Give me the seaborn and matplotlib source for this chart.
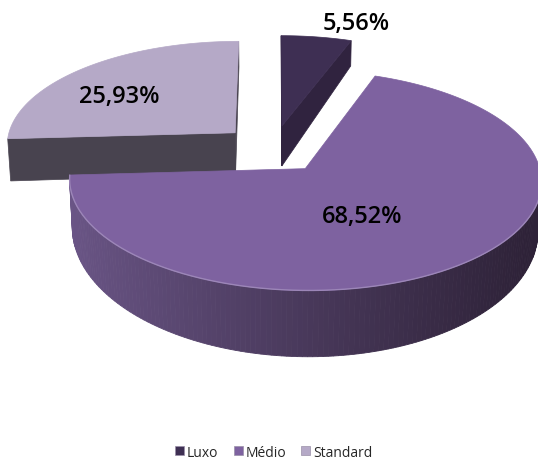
import numpy as np
import matplotlib.pyplot as plt
from matplotlib.patches import Polygon, Patch
from matplotlib.colors import to_rgb
import seaborn as sns

# data
categories = ["Luxo", "Médio", "Standard"]
shares = [5.56, 68.52, 25.93]
labels = ["5,56%", "68,52%", "25,93%"]

# colours
top_colors = ["#3e2f53", "#7e62a0", "#b5a9c7"]
cut_colors = ["#30233f", "#3a2c4c", "#48434f"]
wall_left, wall_right = "#6a5586", "#2e2238"

# 3d pie look (pixel space)
CX, CY = 273, 150
SCALE = 230
ELEV = np.radians(27)
DIST = 8.4
HEIGHT = 0.217
TAPER = 0.32      # walls further back look thinner (excel style)
EXPLODE = 0.23
label_r = [1.22, 0.47, 0.66]
label_turn = [8, 8, -8]

sns.set_theme(style="white")
plt.rcParams['font.family'] = ['Open Sans', 'DejaVu Sans']


def project(X, Y, Z):
    Z = Z * (1 - TAPER * Y)
    v = Y * np.sin(ELEV) + Z * np.cos(ELEV)
    w = Y * np.cos(ELEV) - Z * np.sin(ELEV)
    s = DIST / (DIST + w)
    return CX + SCALE * X * s, CY - SCALE * v * s


def visible(pts):
    xs = np.array([p[0] for p in pts])
    ys = -np.array([p[1] for p in pts])
    return 0.5 * np.sum(xs * np.roll(ys, -1) - np.roll(xs, -1) * ys) > 0


def mix(c1, c2, f):
    a, b = np.array(to_rgb(c1)), np.array(to_rgb(c2))
    return tuple(a + (b - a) * f)


fig = plt.figure(figsize=(5.38, 4.6), dpi=100)
ax = fig.add_axes([0, 0, 1, 1])
ax.set_xlim(0, 538)
ax.set_ylim(460, 0)
ax.axis("off")

bounds = np.concatenate([[0], np.cumsum(shares)]) / sum(shares) * 2 * np.pi
slices = []
for i in range(len(shares)):
    t1, t2 = bounds[i], bounds[i + 1]
    mid = (t1 + t2) / 2
    ox, oy = EXPLODE * np.sin(mid), EXPLODE * np.cos(mid)
    slices.append((oy, i, t1, t2, ox))

# far slices first
for oy, i, t1, t2, ox in sorted(slices, reverse=True):
    ts = np.linspace(t1, t2, max(4, int((t2 - t1) / 0.02)))

    def P(t, z):
        return project(ox + np.sin(t), oy + np.cos(t), z)
    apex_t = project(ox, oy, 0)
    apex_b = project(ox, oy, -HEIGHT)

    # radial cut faces
    f1 = [apex_t, P(t1, 0), P(t1, -HEIGHT), apex_b]
    f2 = [apex_t, apex_b, P(t2, -HEIGHT), P(t2, 0)]
    for f in (f1, f2):
        if visible(f):
            ax.add_patch(Polygon(f, closed=True, fc=cut_colors[i], ec=cut_colors[i], lw=0.5))

    # outer wall
    for a, b in zip(ts[:-1], ts[1:]):
        q = [P(a, 0), P(b, 0), P(b, -HEIGHT), P(a, -HEIGHT)]
        if visible(q):
            if i == 1:
                frac = np.clip((q[0][0] - 70) / 460, 0, 1)
                col = mix(wall_left, wall_right, frac ** 0.9)
            else:
                col = cut_colors[i]
            ax.add_patch(Polygon(q, closed=True, fc=col, ec=col, lw=0.6))

    # top face
    top = [apex_t] + [P(t, 0) for t in ts[::-1]]
    ax.add_patch(Polygon(top, closed=True, fc=top_colors[i], ec=top_colors[i], lw=0.5))

    # rim highlight on the front edge
    if i == 1:
        front = [P(t, 0) for t in ts if np.cos(t) < 0]
        ax.plot([p[0] for p in front], [p[1] for p in front], color="#9c86b8", lw=1)

    # label
    la = (t1 + t2) / 2 + np.radians(label_turn[i])
    lx, ly = project(ox + label_r[i] * np.sin(la), oy + label_r[i] * np.cos(la), 0)
    ax.text(lx, ly, labels[i], ha="center", va="center", fontsize=17,
            fontweight="semibold", color="black")

handles = [Patch(fc=c, ec="#9a90a8", lw=0.5) for c in top_colors]
fig.legend(handles, categories, loc="center", bbox_to_anchor=(0.509, 0.015),
           ncol=3, frameon=False, fontsize=10, handlelength=0.65, handleheight=0.65,
           handletextpad=0.2, columnspacing=1.1)

fig.savefig("out.png", dpi=100, facecolor="white")
